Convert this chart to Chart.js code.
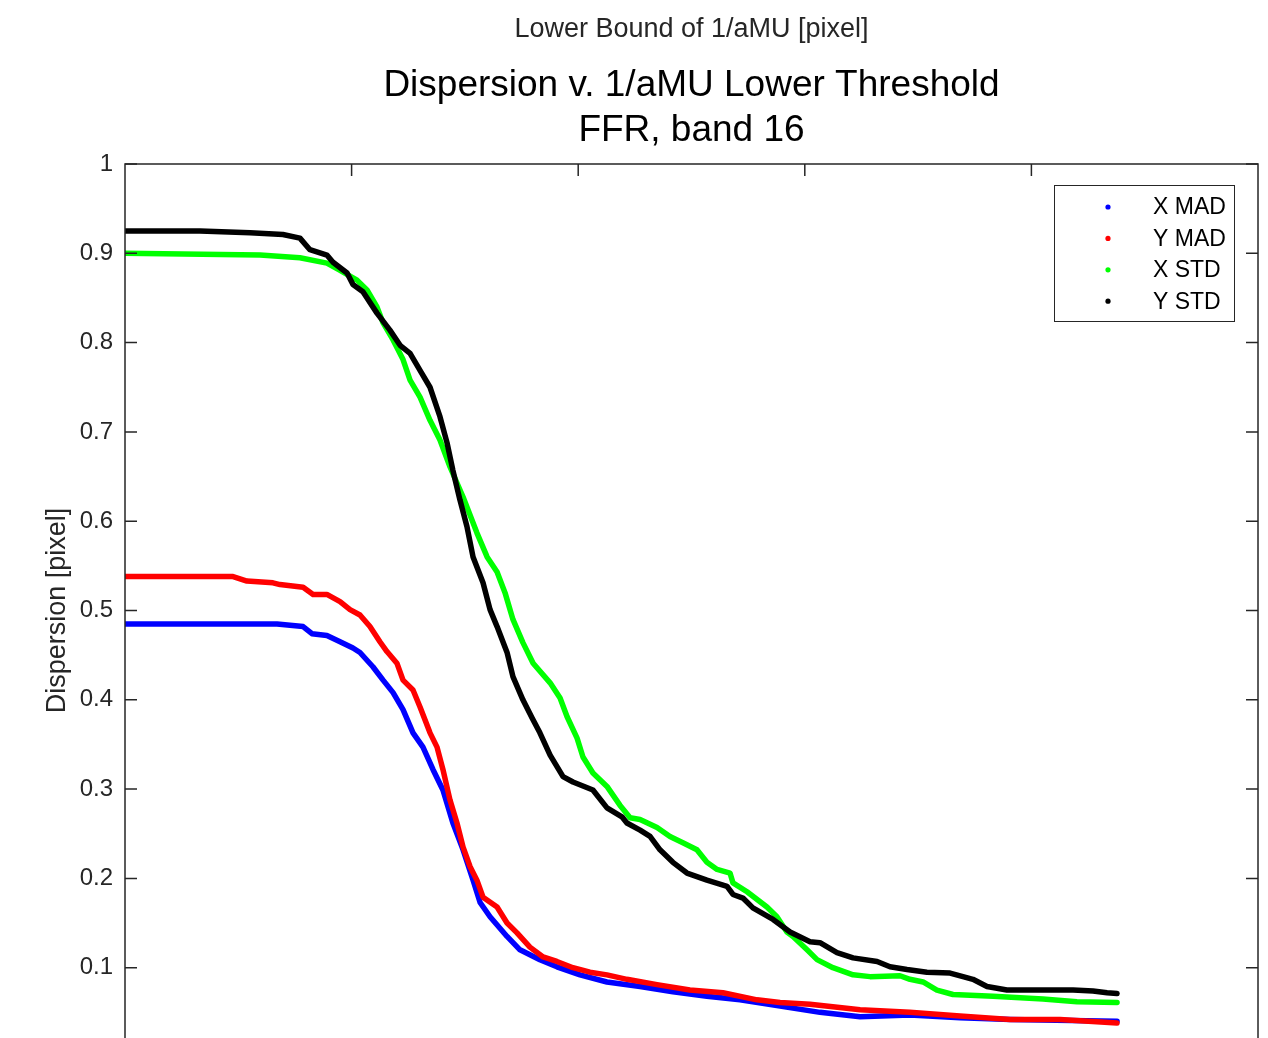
<!DOCTYPE html>
<html><head><meta charset="utf-8">
<script src="https://cdn.jsdelivr.net/npm/chart.js@4.4.1/dist/chart.umd.min.js"></script>
<style>html,body{margin:0;padding:0;overflow:hidden;background:#fff;}#wrap{width:1268px;height:1100px;position:relative;}</style>
</head><body><div id="wrap"><canvas id="c"></canvas></div>
<script>
const chartTitle = ['Dispersion v. 1/aMU Lower Threshold', 'FFR, band 16'];
const xAxisTitle = 'Lower Bound of 1/aMU [pixel]';
const yAxisTitle = 'Dispersion [pixel]';
const seriesNames = ['X MAD', 'Y MAD', 'X STD', 'Y STD'];
const seriesColors = ['#0000ff', '#ff0000', '#00ff00', '#000000'];

const xMadX = [0,0.671,0.786,0.825,0.891,0.949,1.006,1.037,1.094,1.139,1.183,1.227,1.271,1.315,1.359,1.403,1.447,1.492,1.536,1.567,1.611,1.686,1.743,1.831,1.906,2.008,2.127,2.273,2.418,2.568,2.714,2.891,3.067,3.244,3.464,3.685,3.906,4.378];
const xMadY = [0.485,0.485,0.482,0.474,0.472,0.465,0.458,0.453,0.437,0.422,0.408,0.389,0.363,0.347,0.322,0.299,0.262,0.232,0.198,0.173,0.157,0.135,0.120,0.109,0.101,0.092,0.084,0.079,0.073,0.068,0.064,0.057,0.050,0.045,0.047,0.044,0.042,0.040];

const yMadX = [0,0.477,0.538,0.653,0.684,0.786,0.830,0.891,0.949,0.993,1.037,1.081,1.125,1.156,1.200,1.227,1.271,1.302,1.346,1.377,1.403,1.434,1.465,1.492,1.523,1.553,1.580,1.642,1.686,1.730,1.787,1.845,1.906,1.977,2.052,2.127,2.215,2.348,2.493,2.639,2.789,2.891,3.023,3.244,3.464,3.685,3.906,4.126,4.378];
const yMadY = [0.538,0.538,0.533,0.531,0.529,0.526,0.518,0.518,0.510,0.501,0.495,0.482,0.465,0.454,0.441,0.422,0.411,0.392,0.363,0.347,0.322,0.288,0.262,0.235,0.213,0.198,0.179,0.168,0.150,0.139,0.123,0.112,0.107,0.100,0.095,0.092,0.087,0.081,0.075,0.072,0.064,0.061,0.059,0.053,0.050,0.046,0.042,0.042,0.038];

const xStdX = [0,0.596,0.772,0.891,0.949,1.024,1.068,1.112,1.139,1.183,1.227,1.258,1.302,1.346,1.390,1.434,1.492,1.553,1.598,1.642,1.677,1.712,1.756,1.801,1.876,1.920,1.951,1.995,2.021,2.065,2.127,2.184,2.229,2.273,2.348,2.405,2.462,2.524,2.568,2.613,2.670,2.683,2.745,2.833,2.877,2.921,2.948,3.010,3.054,3.124,3.213,3.288,3.420,3.464,3.522,3.583,3.654,3.831,4.051,4.201,4.378];
const xStdY = [0.900,0.898,0.895,0.889,0.881,0.870,0.859,0.840,0.822,0.803,0.781,0.758,0.739,0.713,0.691,0.661,0.627,0.587,0.560,0.543,0.520,0.490,0.464,0.441,0.419,0.402,0.381,0.357,0.336,0.318,0.303,0.282,0.268,0.266,0.257,0.247,0.240,0.232,0.218,0.210,0.206,0.195,0.185,0.168,0.157,0.140,0.135,0.120,0.109,0.100,0.092,0.090,0.091,0.087,0.084,0.075,0.070,0.068,0.065,0.062,0.061];

const yStdX = [0,0.331,0.552,0.697,0.772,0.816,0.891,0.918,0.980,1.006,1.050,1.112,1.169,1.214,1.258,1.302,1.346,1.390,1.421,1.447,1.478,1.509,1.536,1.580,1.611,1.642,1.686,1.712,1.756,1.796,1.831,1.876,1.933,1.977,2.065,2.127,2.193,2.215,2.273,2.317,2.361,2.418,2.480,2.568,2.657,2.683,2.727,2.771,2.860,2.935,3.023,3.067,3.142,3.213,3.319,3.376,3.451,3.539,3.641,3.698,3.742,3.804,3.892,4.051,4.184,4.272,4.334,4.378];
const yStdY = [0.925,0.925,0.923,0.921,0.917,0.904,0.898,0.890,0.878,0.865,0.857,0.833,0.814,0.797,0.788,0.769,0.750,0.717,0.688,0.657,0.624,0.594,0.560,0.531,0.501,0.482,0.453,0.426,0.400,0.380,0.363,0.338,0.314,0.308,0.299,0.279,0.269,0.262,0.254,0.247,0.232,0.218,0.206,0.198,0.191,0.182,0.178,0.167,0.154,0.140,0.129,0.128,0.117,0.111,0.107,0.101,0.098,0.095,0.094,0.090,0.087,0.079,0.075,0.075,0.075,0.074,0.072,0.071];

const yTickValues = [0.1,0.2,0.3,0.4,0.5,0.6,0.7,0.8,0.9,1];
const yTickLabels = ['0.1','0.2','0.3','0.4','0.5','0.6','0.7','0.8','0.9','1'];
const xTickValues = [1,2,3,4];
const xRange = [0, 5];
const yRange = [0, 1];

const FONT = "'Liberation Sans', Arial, Helvetica, sans-serif";
const AXIS_COLOR = '#262626';

function pts(xs, ys) { return xs.map((x, i) => ({x: x, y: ys[i]})); }
const seriesData = [pts(xMadX, xMadY), pts(yMadX, yMadY), pts(xStdX, xStdY), pts(yStdX, yStdY)];

const datasets = seriesNames.map((name, i) => ({
  label: name,
  data: seriesData[i],
  showLine: true,
  borderColor: seriesColors[i],
  backgroundColor: seriesColors[i],
  borderWidth: 5.5,
  pointRadius: 0,
  borderJoinStyle: 'round',
  borderCapStyle: 'round',
  order: seriesNames.length - i
}));

const framePlugin = {
  id: 'frame',
  afterDatasetsDraw(chart) {
    const {ctx, chartArea: ca, scales} = chart;
    ctx.save();
    ctx.strokeStyle = AXIS_COLOR;
    ctx.lineWidth = 1.5;
    ctx.strokeRect(ca.left, ca.top, ca.right - ca.left, ca.bottom - ca.top);
    ctx.beginPath();
    yTickValues.forEach(v => {
      const py = scales.y.getPixelForValue(v);
      ctx.moveTo(ca.left, py); ctx.lineTo(ca.left + 12, py);
      ctx.moveTo(ca.right, py); ctx.lineTo(ca.right - 12, py);
    });
    xTickValues.forEach(v => {
      const px = scales.x.getPixelForValue(v);
      ctx.moveTo(px, ca.top); ctx.lineTo(px, ca.top + 12);
      ctx.moveTo(px, ca.bottom); ctx.lineTo(px, ca.bottom - 12);
    });
    ctx.stroke();
    ctx.restore();
  }
};

const legendPlugin = {
  id: 'boxLegend',
  afterDraw(chart) {
    const {ctx, chartArea: ca} = chart;
    const bx = ca.right - 204, by = ca.top + 21, bw = 180, bh = 136;
    ctx.save();
    ctx.fillStyle = '#ffffff';
    ctx.fillRect(bx, by, bw, bh);
    ctx.strokeStyle = AXIS_COLOR;
    ctx.lineWidth = 1;
    ctx.strokeRect(bx + 0.5, by + 0.5, bw, bh);
    ctx.font = '23px ' + FONT;
    ctx.textBaseline = 'middle';
    ctx.textAlign = 'left';
    chart.data.datasets.forEach((ds, i) => {
      const cy = by + 22 + i * 31.4;
      ctx.fillStyle = ds.borderColor;
      ctx.beginPath();
      ctx.arc(bx + 54, cy, 2.6, 0, Math.PI * 2);
      ctx.fill();
      ctx.fillStyle = '#000000';
      ctx.fillText(ds.label, bx + 99, cy + 1);
    });
    ctx.restore();
  }
};

new Chart(document.getElementById('c'), {
  type: 'scatter',
  data: { datasets: datasets },
  options: {
    responsive: true,
    maintainAspectRatio: false,
    animation: false,
    devicePixelRatio: 1,
    layout: { padding: { left: 0, right: 10, top: 0, bottom: 43 } },
    plugins: {
      legend: { display: false },
      tooltip: { enabled: false },
      title: {
        display: true, fullSize: false, text: chartTitle, color: '#000000',
        font: { family: FONT, size: 37, weight: 'normal', lineHeight: '45px' },
        padding: { top: 0, bottom: 11 }
      }
    },
    scales: {
      x: {
        type: 'linear', position: 'top', weight: 3000,
        min: xRange[0], max: xRange[1],
        ticks: { display: false },
        grid: { display: false, drawTicks: false },
        border: { display: false },
        title: { display: true, text: xAxisTitle, color: AXIS_COLOR,
          font: { family: FONT, size: 27, lineHeight: '32px' }, padding: { top: 14, bottom: 0 } },
        afterFit(s) { s.height = 63; }
      },
      y: {
        type: 'linear', position: 'left',
        min: yRange[0], max: yRange[1],
        afterBuildTicks(s) { s.ticks = yTickValues.map(v => ({ value: v })); },
        ticks: { color: AXIS_COLOR, padding: 12, font: { family: FONT, size: 24 },
          callback: (v, i) => yTickLabels[i] },
        grid: { display: false, drawTicks: false },
        border: { display: false },
        title: { display: true, text: yAxisTitle, color: AXIS_COLOR,
          font: { family: FONT, size: 27, lineHeight: '32px' }, padding: { top: 42, bottom: 0 } },
        afterFit(s) { s.width = 125; }
      }
    }
  },
  plugins: [framePlugin, legendPlugin]
});
</script>
</body></html>
